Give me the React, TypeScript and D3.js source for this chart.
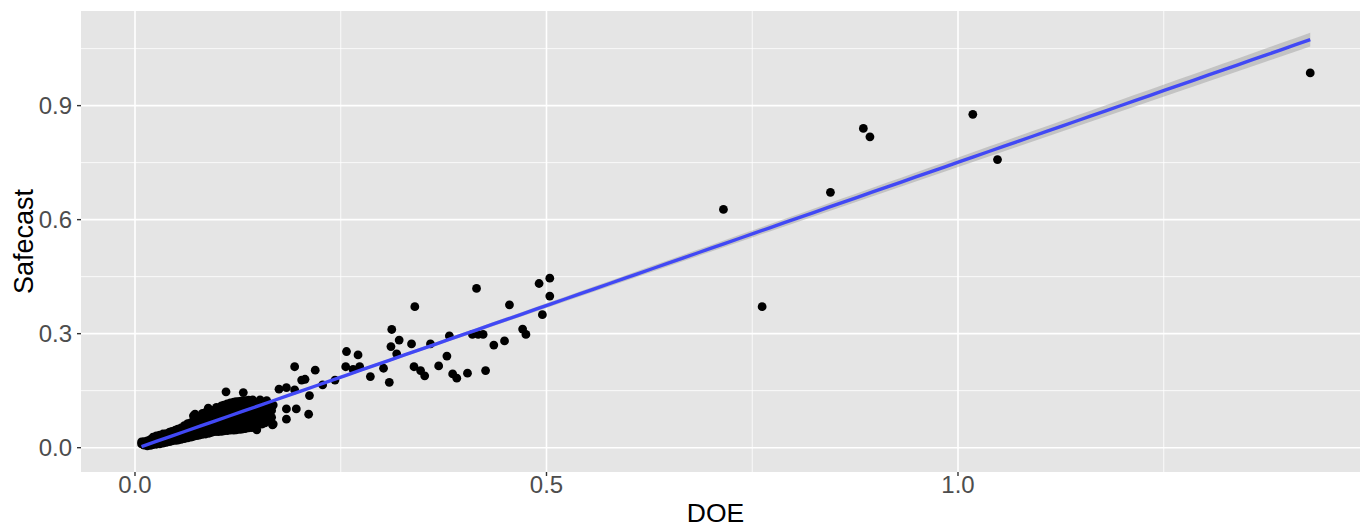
import React from "react";
import * as d3 from "d3";

// ---------- data (DOE vs Safecast readings) ----------
// dense cluster near the origin
const clusterPoints: [number, number][] = [
  [0.008, 0.01], [0.008, 0.015], [0.011, 0.007], [0.011, 0.016],
  [0.015, 0.005], [0.015, 0.012], [0.015, 0.018],
  [0.019, 0.006], [0.019, 0.014], [0.019, 0.022],
  [0.022, 0.008], [0.022, 0.015], [0.022, 0.022], [0.022, 0.028],
  [0.026, 0.009], [0.026, 0.017], [0.026, 0.025], [0.026, 0.031],
  [0.03, 0.01], [0.03, 0.018], [0.03, 0.026], [0.03, 0.033],
  [0.034, 0.012], [0.034, 0.02], [0.034, 0.028], [0.034, 0.036],
  [0.038, 0.014], [0.038, 0.022], [0.038, 0.03], [0.038, 0.037],
  [0.042, 0.016], [0.042, 0.025], [0.042, 0.033], [0.042, 0.041],
  [0.045, 0.018], [0.045, 0.027], [0.045, 0.035], [0.045, 0.043],
  [0.049, 0.019], [0.049, 0.028], [0.049, 0.037], [0.049, 0.046],
  [0.052, 0.02], [0.052, 0.03], [0.052, 0.04], [0.052, 0.049],
  [0.056, 0.022], [0.056, 0.032], [0.056, 0.042], [0.056, 0.052],
  [0.06, 0.024], [0.06, 0.034], [0.06, 0.044], [0.06, 0.053], [0.06, 0.058],
  [0.064, 0.026], [0.064, 0.036], [0.064, 0.046], [0.064, 0.056], [0.064, 0.063],
  [0.068, 0.028], [0.068, 0.038], [0.068, 0.048], [0.068, 0.058], [0.068, 0.066],
  [0.071, 0.03], [0.071, 0.04], [0.071, 0.05], [0.071, 0.06], [0.071, 0.07], [0.071, 0.084],
  [0.075, 0.032], [0.075, 0.042], [0.075, 0.053], [0.075, 0.064], [0.075, 0.075], [0.073, 0.088],
  [0.078, 0.033], [0.078, 0.044], [0.078, 0.055], [0.078, 0.066], [0.078, 0.077],
  [0.082, 0.035], [0.082, 0.046], [0.082, 0.057], [0.082, 0.068], [0.082, 0.079], [0.082, 0.09],
  [0.086, 0.036], [0.086, 0.048], [0.086, 0.06], [0.086, 0.071], [0.086, 0.082], [0.086, 0.093],
  [0.09, 0.038], [0.09, 0.05], [0.09, 0.062], [0.09, 0.074], [0.09, 0.086], [0.089, 0.104],
  [0.093, 0.04], [0.093, 0.052], [0.093, 0.064], [0.093, 0.076], [0.093, 0.088], [0.093, 0.098],
  [0.097, 0.042], [0.097, 0.054], [0.097, 0.066], [0.097, 0.078], [0.097, 0.09], [0.099, 0.106],
  [0.101, 0.042], [0.101, 0.055], [0.101, 0.068], [0.101, 0.08], [0.101, 0.092], [0.101, 0.102],
  [0.105, 0.043], [0.105, 0.056], [0.105, 0.069], [0.105, 0.082], [0.105, 0.095], [0.105, 0.11],
  [0.108, 0.044], [0.108, 0.057], [0.108, 0.07], [0.108, 0.084], [0.108, 0.098], [0.108, 0.112],
  [0.112, 0.045], [0.112, 0.058], [0.112, 0.072], [0.112, 0.086], [0.112, 0.1], [0.112, 0.115], [0.1106, 0.147],
  [0.116, 0.046], [0.116, 0.059], [0.116, 0.073], [0.116, 0.088], [0.116, 0.102], [0.116, 0.118],
  [0.12, 0.046], [0.12, 0.06], [0.12, 0.075], [0.12, 0.09], [0.12, 0.105], [0.12, 0.12],
  [0.123, 0.047], [0.123, 0.061], [0.123, 0.076], [0.123, 0.091], [0.123, 0.106], [0.123, 0.121],
  [0.127, 0.048], [0.127, 0.062], [0.127, 0.077], [0.127, 0.092], [0.127, 0.107], [0.127, 0.122],
  [0.13, 0.049], [0.13, 0.064], [0.13, 0.079], [0.13, 0.094], [0.13, 0.109], [0.13, 0.123],
  [0.134, 0.05], [0.134, 0.065], [0.134, 0.08], [0.134, 0.095], [0.134, 0.11], [0.134, 0.124], [0.1316, 0.145],
  [0.138, 0.052], [0.138, 0.066], [0.138, 0.081], [0.138, 0.096], [0.138, 0.111], [0.138, 0.125],
  [0.142, 0.053], [0.142, 0.068], [0.142, 0.083], [0.142, 0.098], [0.142, 0.113], [0.143, 0.1255],
  [0.146, 0.055], [0.146, 0.07], [0.146, 0.085], [0.146, 0.1], [0.146, 0.114],
  [0.148, 0.047], [0.15, 0.065], [0.15, 0.08], [0.15, 0.095], [0.15, 0.11], [0.152, 0.1255],
  [0.154, 0.062], [0.154, 0.076], [0.154, 0.09], [0.154, 0.104], [0.154, 0.117],
  [0.158, 0.065], [0.158, 0.082], [0.158, 0.098], [0.158, 0.112], [0.16, 0.124],
  [0.162, 0.072], [0.162, 0.09], [0.162, 0.106],
  [0.167, 0.06], [0.166, 0.08], [0.166, 0.098], [0.168, 0.112],
];

// scattered readings
const scatterPoints: [number, number][] = [
  [0.168, 0.062], [0.175, 0.154], [0.184, 0.158], [0.184, 0.102], [0.184, 0.075],
  [0.194, 0.213], [0.194, 0.152], [0.196, 0.102], [0.2025, 0.178], [0.2066, 0.18],
  [0.211, 0.088], [0.212, 0.137], [0.219, 0.204], [0.228, 0.165], [0.243, 0.178],
  [0.256, 0.213], [0.257, 0.253], [0.265, 0.206], [0.271, 0.244], [0.273, 0.213],
  [0.286, 0.187], [0.302, 0.209], [0.309, 0.172], [0.311, 0.266], [0.312, 0.311],
  [0.318, 0.247], [0.321, 0.283], [0.336, 0.273], [0.339, 0.213], [0.34, 0.371],
  [0.347, 0.203], [0.352, 0.189], [0.359, 0.273], [0.369, 0.215], [0.379, 0.241],
  [0.382, 0.294], [0.386, 0.194], [0.391, 0.183], [0.404, 0.196], [0.41, 0.298],
  [0.415, 0.419], [0.417, 0.298], [0.423, 0.298], [0.426, 0.203], [0.436, 0.27],
  [0.449, 0.281], [0.455, 0.376], [0.471, 0.312], [0.475, 0.298], [0.491, 0.432],
  [0.495, 0.35], [0.504, 0.446], [0.504, 0.399], [0.715, 0.627], [0.762, 0.371],
  [0.845, 0.672], [0.885, 0.84], [0.893, 0.818], [1.018, 0.877], [1.048, 0.758],
  [1.428, 0.986],
];

// linear fit (lm)
const fitIntercept = -0.003;
const fitSlope = 0.754;
const fitCenterX = 0.08;
const fitCenterHalfWidth = 0.002;
const fitHalfWidthGrowth = 0.0133; // half-width per unit distance from centre

const xMajorTicks = [0.0, 0.5, 1.0];
const xMinorTicks = [0.25, 0.75, 1.25];
const yMajorTicks = [0.0, 0.3, 0.6, 0.9];
const yMinorTicks = [0.15, 0.45, 0.75, 1.05];
const xTitle = "DOE";
const yTitle = "Safecast";

// ---------- layout ----------
const W = 1360;
const H = 527;
const panel = { left: 81, right: 1369, top: 11, bottom: 472 };
const FONT = "'Liberation Sans', Arial, Helvetica, sans-serif";

export default function App() {
  const x = d3.scaleLinear().domain([-0.0656, 1.4994]).range([panel.left, panel.right]);
  const y = d3.scaleLinear().domain([-0.064, 1.149]).range([panel.bottom, panel.top]);

  const allPts = [...clusterPoints, ...scatterPoints];
  const xMin = d3.min(allPts, (d) => d[0]) as number;
  const xMax = d3.max(allPts, (d) => d[0]) as number;
  const fitXs = d3.range(0, 81).map((i) => xMin + ((xMax - xMin) * i) / 80);
  const fit = (v: number) => fitIntercept + fitSlope * v;
  const hw = (v: number) =>
    Math.sqrt(fitCenterHalfWidth ** 2 + (fitHalfWidthGrowth * (v - fitCenterX)) ** 2);

  const line = d3
    .line<number>()
    .x((d) => x(d))
    .y((d) => y(fit(d)));
  const area = d3
    .area<number>()
    .x((d) => x(d))
    .y0((d) => y(fit(d) - hw(d)))
    .y1((d) => y(fit(d) + hw(d)));

  return (
    <svg
      width={W}
      height={H}
      style={{ position: "absolute", left: 0, top: 0, display: "block", background: "#fff" }}
    >
      <defs>
        <clipPath id="panelClip">
          <rect x={panel.left} y={panel.top} width={panel.right - panel.left} height={panel.bottom - panel.top} />
        </clipPath>
      </defs>
      <rect
        x={panel.left}
        y={panel.top}
        width={panel.right - panel.left}
        height={panel.bottom - panel.top}
        fill="#E5E5E5"
      />
      <g clipPath="url(#panelClip)">
        {xMinorTicks.map((t) => (
          <line key={"xm" + t} x1={x(t)} x2={x(t)} y1={panel.top} y2={panel.bottom} stroke="#fff" strokeWidth={0.8} />
        ))}
        {yMinorTicks.map((t) => (
          <line key={"ym" + t} x1={panel.left} x2={panel.right} y1={y(t)} y2={y(t)} stroke="#fff" strokeWidth={0.8} />
        ))}
        {xMajorTicks.map((t) => (
          <line key={"xM" + t} x1={x(t)} x2={x(t)} y1={panel.top} y2={panel.bottom} stroke="#fff" strokeWidth={1.6} />
        ))}
        {yMajorTicks.map((t) => (
          <line key={"yM" + t} x1={panel.left} x2={panel.right} y1={y(t)} y2={y(t)} stroke="#fff" strokeWidth={1.6} />
        ))}
        {allPts.map((d, i) => (
          <circle key={i} cx={x(d[0])} cy={y(d[1])} r={4.4} fill="#000" />
        ))}
        <path d={area(fitXs) || ""} fill="#999999" fillOpacity={0.45} />
        <path d={line(fitXs) || ""} fill="none" stroke="#4148F5" strokeWidth={3.4} />
      </g>

      {/* x axis */}
      {xMajorTicks.map((t) => (
        <g key={"xt" + t}>
          <line x1={x(t)} x2={x(t)} y1={panel.bottom} y2={panel.bottom + 4} stroke="#333" strokeWidth={1.4} />
          <text
            x={x(t)}
            y={panel.bottom + 21}
            textAnchor="middle"
            fontFamily={FONT}
            fontSize={24}
            fill="#4D4D4D"
          >
            {t.toFixed(1)}
          </text>
        </g>
      ))}
      {/* y axis */}
      {yMajorTicks.map((t) => (
        <g key={"yt" + t}>
          <line x1={panel.left - 4} x2={panel.left} y1={y(t)} y2={y(t)} stroke="#333" strokeWidth={1.4} />
          <text
            x={panel.left - 9}
            y={y(t)}
            dy="0.36em"
            textAnchor="end"
            fontFamily={FONT}
            fontSize={24}
            fill="#4D4D4D"
          >
            {t.toFixed(1)}
          </text>
        </g>
      ))}
      <text
        x={(panel.left + 1350) / 2}
        y={522}
        textAnchor="middle"
        fontFamily={FONT}
        fontSize={26.5}
        fill="#000"
      >
        {xTitle}
      </text>
      <text
        transform={`translate(33, ${(panel.top + panel.bottom) / 2}) rotate(-90)`}
        textAnchor="middle"
        fontFamily={FONT}
        fontSize={27}
        fill="#000"
      >
        {yTitle}
      </text>
    </svg>
  );
}
